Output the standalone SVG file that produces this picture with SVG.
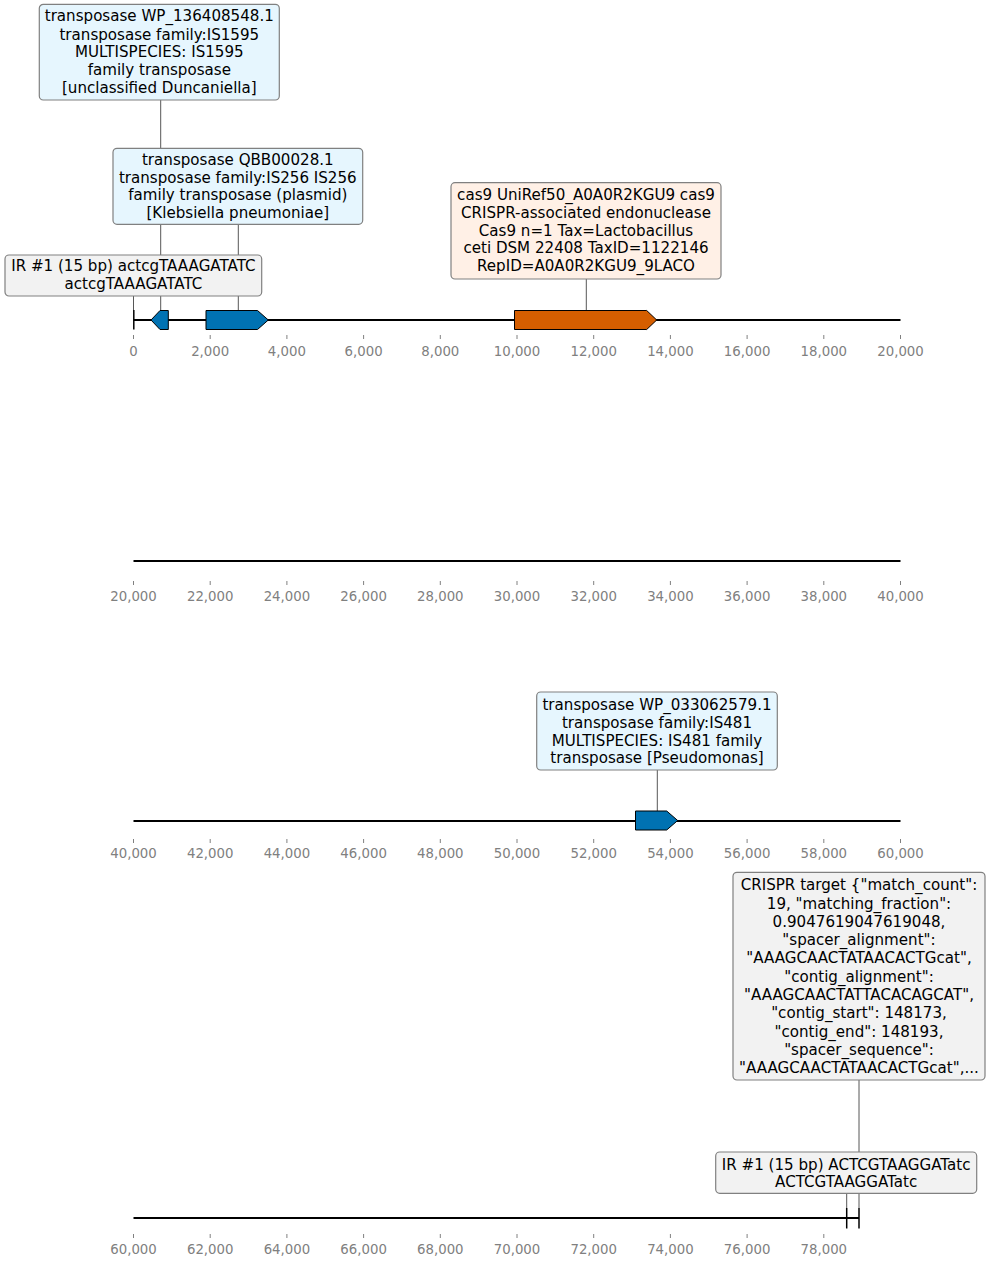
<svg xmlns="http://www.w3.org/2000/svg" width="990" height="1267" viewBox="0 0 990 1267">
<style>
.bg{fill:#ffffff}
.axis{stroke:#000;stroke-width:2;fill:none}
.tick{stroke:#808080;stroke-width:1}
.tl{font-family:"DejaVu Sans",sans-serif;font-size:13.3px;fill:#808080;text-anchor:middle}
.lbl{font-family:"DejaVu Sans",sans-serif;font-size:15.1px;fill:#000;text-anchor:middle}
.lead{stroke:#444;stroke-width:0.9;fill:none}
.box{stroke:#808080;stroke-width:1.2}
.blue{fill:#0072b2}
.orange{fill:#d55e00}
.gene{stroke:#000;stroke-width:1}
.ir{stroke:#000;stroke-width:1.5}
.fblue{fill:#e6f6fe}
.forange{fill:#fff0e6}
.fgray{fill:#f2f2f2}
</style>
<rect class="bg" x="0" y="0" width="990" height="1267"/>

<g id="connectors">
  <line class="lead" x1="160.7" y1="100" x2="160.7" y2="310"/>
  <line class="lead" x1="238.3" y1="224" x2="238.3" y2="310"/>
  <line class="lead" x1="133.5" y1="296" x2="133.5" y2="310"/>
  <line class="lead" x1="586.3" y1="279" x2="586.3" y2="310"/>
  <line class="lead" x1="657.3" y1="770" x2="657.3" y2="811"/>
  <line class="lead" x1="859" y1="1080" x2="859" y2="1208"/>
  <line class="lead" x1="846.7" y1="1193" x2="846.7" y2="1208"/>
</g>

<g id="track1">
  <line class="axis" x1="133.5" y1="320" x2="900.5" y2="320"/>
  <g class="tick">
    <line x1="133.5" y1="335" x2="133.5" y2="339"/><line x1="210.2" y1="335" x2="210.2" y2="339"/><line x1="286.9" y1="335" x2="286.9" y2="339"/><line x1="363.6" y1="335" x2="363.6" y2="339"/><line x1="440.3" y1="335" x2="440.3" y2="339"/><line x1="517" y1="335" x2="517" y2="339"/><line x1="593.7" y1="335" x2="593.7" y2="339"/><line x1="670.4" y1="335" x2="670.4" y2="339"/><line x1="747.1" y1="335" x2="747.1" y2="339"/><line x1="823.8" y1="335" x2="823.8" y2="339"/><line x1="900.5" y1="335" x2="900.5" y2="339"/>
  </g>
  <g class="tl">
    <text x="133.5" y="356">0</text><text x="210.2" y="356">2,000</text><text x="286.9" y="356">4,000</text><text x="363.6" y="356">6,000</text><text x="440.3" y="356">8,000</text><text x="517" y="356">10,000</text><text x="593.7" y="356">12,000</text><text x="670.4" y="356">14,000</text><text x="747.1" y="356">16,000</text><text x="823.8" y="356">18,000</text><text x="900.5" y="356">20,000</text>
  </g>
</g>

<g id="ir1"><line class="ir" x1="133.8" y1="310" x2="133.8" y2="329.5"/></g>
<g id="gene1"><polygon class="gene blue" points="151,320 160,310.5 168.3,310.5 168.3,329.5 160,329.5"/></g>
<g id="gene2"><polygon class="gene blue" points="206,310.5 257.5,310.5 268.3,320 257.5,329.5 206,329.5"/></g>
<g id="gene3"><polygon class="gene orange" points="514.5,310.5 646.7,310.5 656.7,320 646.7,329.5 514.5,329.5"/></g>

<g id="label-wp136">
  <rect class="box fblue" x="39.3" y="4.3" width="240" height="95.7" rx="4"/>
  <text class="lbl" x="159.3" y="21.2">transposase WP_136408548.1</text>
  <text class="lbl" x="159.3" y="39.8">transposase family:IS1595</text>
  <text class="lbl" x="159.3" y="57.4">MULTISPECIES: IS1595</text>
  <text class="lbl" x="159.3" y="75.1">family transposase</text>
  <text class="lbl" x="159.3" y="92.6">[unclassified Duncaniella]</text>
</g>
<g id="label-qbb">
  <rect class="box fblue" x="113" y="148.3" width="249.7" height="76" rx="4"/>
  <text class="lbl" x="237.8" y="165.4">transposase QBB00028.1</text>
  <text class="lbl" x="237.8" y="182.7">transposase family:IS256 IS256</text>
  <text class="lbl" x="237.8" y="200.2">family transposase (plasmid)</text>
  <text class="lbl" x="237.8" y="217.5">[Klebsiella pneumoniae]</text>
</g>
<g id="label-ir1">
  <rect class="box fgray" x="5" y="255" width="256.7" height="41" rx="4"/>
  <text class="lbl" x="133.4" y="271">IR #1 (15 bp) actcgTAAAGATATC</text>
  <text class="lbl" x="133.4" y="288.5">actcgTAAAGATATC</text>
</g>
<g id="label-cas9">
  <rect class="box forange" x="451" y="182.7" width="270" height="96.3" rx="4"/>
  <text class="lbl" x="586" y="200.4">cas9 UniRef50_A0A0R2KGU9 cas9</text>
  <text class="lbl" x="586" y="218">CRISPR-associated endonuclease</text>
  <text class="lbl" x="586" y="235.7">Cas9 n=1 Tax=Lactobacillus</text>
  <text class="lbl" x="586" y="253.3">ceti DSM 22408 TaxID=1122146</text>
  <text class="lbl" x="586" y="271">RepID=A0A0R2KGU9_9LACO</text>
</g>

<g id="track2">
  <line class="axis" x1="133.5" y1="561" x2="900.5" y2="561"/>
  <g class="tick">
    <line x1="133.5" y1="581" x2="133.5" y2="585"/><line x1="210.2" y1="581" x2="210.2" y2="585"/><line x1="286.9" y1="581" x2="286.9" y2="585"/><line x1="363.6" y1="581" x2="363.6" y2="585"/><line x1="440.3" y1="581" x2="440.3" y2="585"/><line x1="517" y1="581" x2="517" y2="585"/><line x1="593.7" y1="581" x2="593.7" y2="585"/><line x1="670.4" y1="581" x2="670.4" y2="585"/><line x1="747.1" y1="581" x2="747.1" y2="585"/><line x1="823.8" y1="581" x2="823.8" y2="585"/><line x1="900.5" y1="581" x2="900.5" y2="585"/>
  </g>
  <g class="tl">
    <text x="133.5" y="601">20,000</text><text x="210.2" y="601">22,000</text><text x="286.9" y="601">24,000</text><text x="363.6" y="601">26,000</text><text x="440.3" y="601">28,000</text><text x="517" y="601">30,000</text><text x="593.7" y="601">32,000</text><text x="670.4" y="601">34,000</text><text x="747.1" y="601">36,000</text><text x="823.8" y="601">38,000</text><text x="900.5" y="601">40,000</text>
  </g>
</g>

<g id="track3">
  <line class="axis" x1="133.5" y1="821" x2="900.5" y2="821"/>
  <g class="tick">
    <line x1="133.5" y1="839" x2="133.5" y2="843"/><line x1="210.2" y1="839" x2="210.2" y2="843"/><line x1="286.9" y1="839" x2="286.9" y2="843"/><line x1="363.6" y1="839" x2="363.6" y2="843"/><line x1="440.3" y1="839" x2="440.3" y2="843"/><line x1="517" y1="839" x2="517" y2="843"/><line x1="593.7" y1="839" x2="593.7" y2="843"/><line x1="670.4" y1="839" x2="670.4" y2="843"/><line x1="747.1" y1="839" x2="747.1" y2="843"/><line x1="823.8" y1="839" x2="823.8" y2="843"/><line x1="900.5" y1="839" x2="900.5" y2="843"/>
  </g>
  <g class="tl">
    <text x="133.5" y="858">40,000</text><text x="210.2" y="858">42,000</text><text x="286.9" y="858">44,000</text><text x="363.6" y="858">46,000</text><text x="440.3" y="858">48,000</text><text x="517" y="858">50,000</text><text x="593.7" y="858">52,000</text><text x="670.4" y="858">54,000</text><text x="747.1" y="858">56,000</text><text x="823.8" y="858">58,000</text><text x="900.5" y="858">60,000</text>
  </g>
</g>
<g id="gene4"><polygon class="gene blue" points="635.5,811 666.7,811 677.7,820.5 666.7,830 635.5,830"/></g>
<g id="label-wp033">
  <rect class="box fblue" x="536.7" y="692" width="240.6" height="78" rx="4"/>
  <text class="lbl" x="657" y="710.2">transposase WP_033062579.1</text>
  <text class="lbl" x="657" y="727.8">transposase family:IS481</text>
  <text class="lbl" x="657" y="745.6">MULTISPECIES: IS481 family</text>
  <text class="lbl" x="657" y="763">transposase [Pseudomonas]</text>
</g>

<g id="track4">
  <line class="axis" x1="133.5" y1="1218" x2="859" y2="1218"/>
  <g class="tick">
    <line x1="133.5" y1="1234" x2="133.5" y2="1238"/><line x1="210.2" y1="1234" x2="210.2" y2="1238"/><line x1="286.9" y1="1234" x2="286.9" y2="1238"/><line x1="363.6" y1="1234" x2="363.6" y2="1238"/><line x1="440.3" y1="1234" x2="440.3" y2="1238"/><line x1="517" y1="1234" x2="517" y2="1238"/><line x1="593.7" y1="1234" x2="593.7" y2="1238"/><line x1="670.4" y1="1234" x2="670.4" y2="1238"/><line x1="747.1" y1="1234" x2="747.1" y2="1238"/><line x1="823.8" y1="1234" x2="823.8" y2="1238"/>
  </g>
  <g class="tl">
    <text x="133.5" y="1253.5">60,000</text><text x="210.2" y="1253.5">62,000</text><text x="286.9" y="1253.5">64,000</text><text x="363.6" y="1253.5">66,000</text><text x="440.3" y="1253.5">68,000</text><text x="517" y="1253.5">70,000</text><text x="593.7" y="1253.5">72,000</text><text x="670.4" y="1253.5">74,000</text><text x="747.1" y="1253.5">76,000</text><text x="823.8" y="1253.5">78,000</text>
  </g>
</g>
<g id="ir2">
  <line class="ir" x1="846.7" y1="1208" x2="846.7" y2="1228.5" stroke-width="2"/>
  <line class="ir" x1="859" y1="1208" x2="859" y2="1228.5" stroke-width="2"/>
</g>
<g id="label-crispr">
  <rect class="box fgray" x="733" y="872.3" width="252" height="207.7" rx="4"/>
  <text class="lbl" x="859" y="890.2">CRISPR target {"match_count":</text>
  <text class="lbl" x="859" y="908.5">19, "matching_fraction":</text>
  <text class="lbl" x="859" y="926.8">0.9047619047619048,</text>
  <text class="lbl" x="859" y="945.1">"spacer_alignment":</text>
  <text class="lbl" x="859" y="963.4">"AAAGCAACTATAACACTGcat",</text>
  <text class="lbl" x="859" y="981.7">"contig_alignment":</text>
  <text class="lbl" x="859" y="1000">"AAAGCAACTATTACACAGCAT",</text>
  <text class="lbl" x="859" y="1018.3">"contig_start": 148173,</text>
  <text class="lbl" x="859" y="1036.6">"contig_end": 148193,</text>
  <text class="lbl" x="859" y="1054.9">"spacer_sequence":</text>
  <text class="lbl" x="859" y="1073.2">"AAAGCAACTATAACACTGcat",...</text>
</g>
<g id="label-ir2">
  <rect class="box fgray" x="715.7" y="1152" width="261" height="41.3" rx="4"/>
  <text class="lbl" x="846.2" y="1169.5">IR #1 (15 bp) ACTCGTAAGGATatc</text>
  <text class="lbl" x="846.2" y="1186.9">ACTCGTAAGGATatc</text>
</g>
</svg>
